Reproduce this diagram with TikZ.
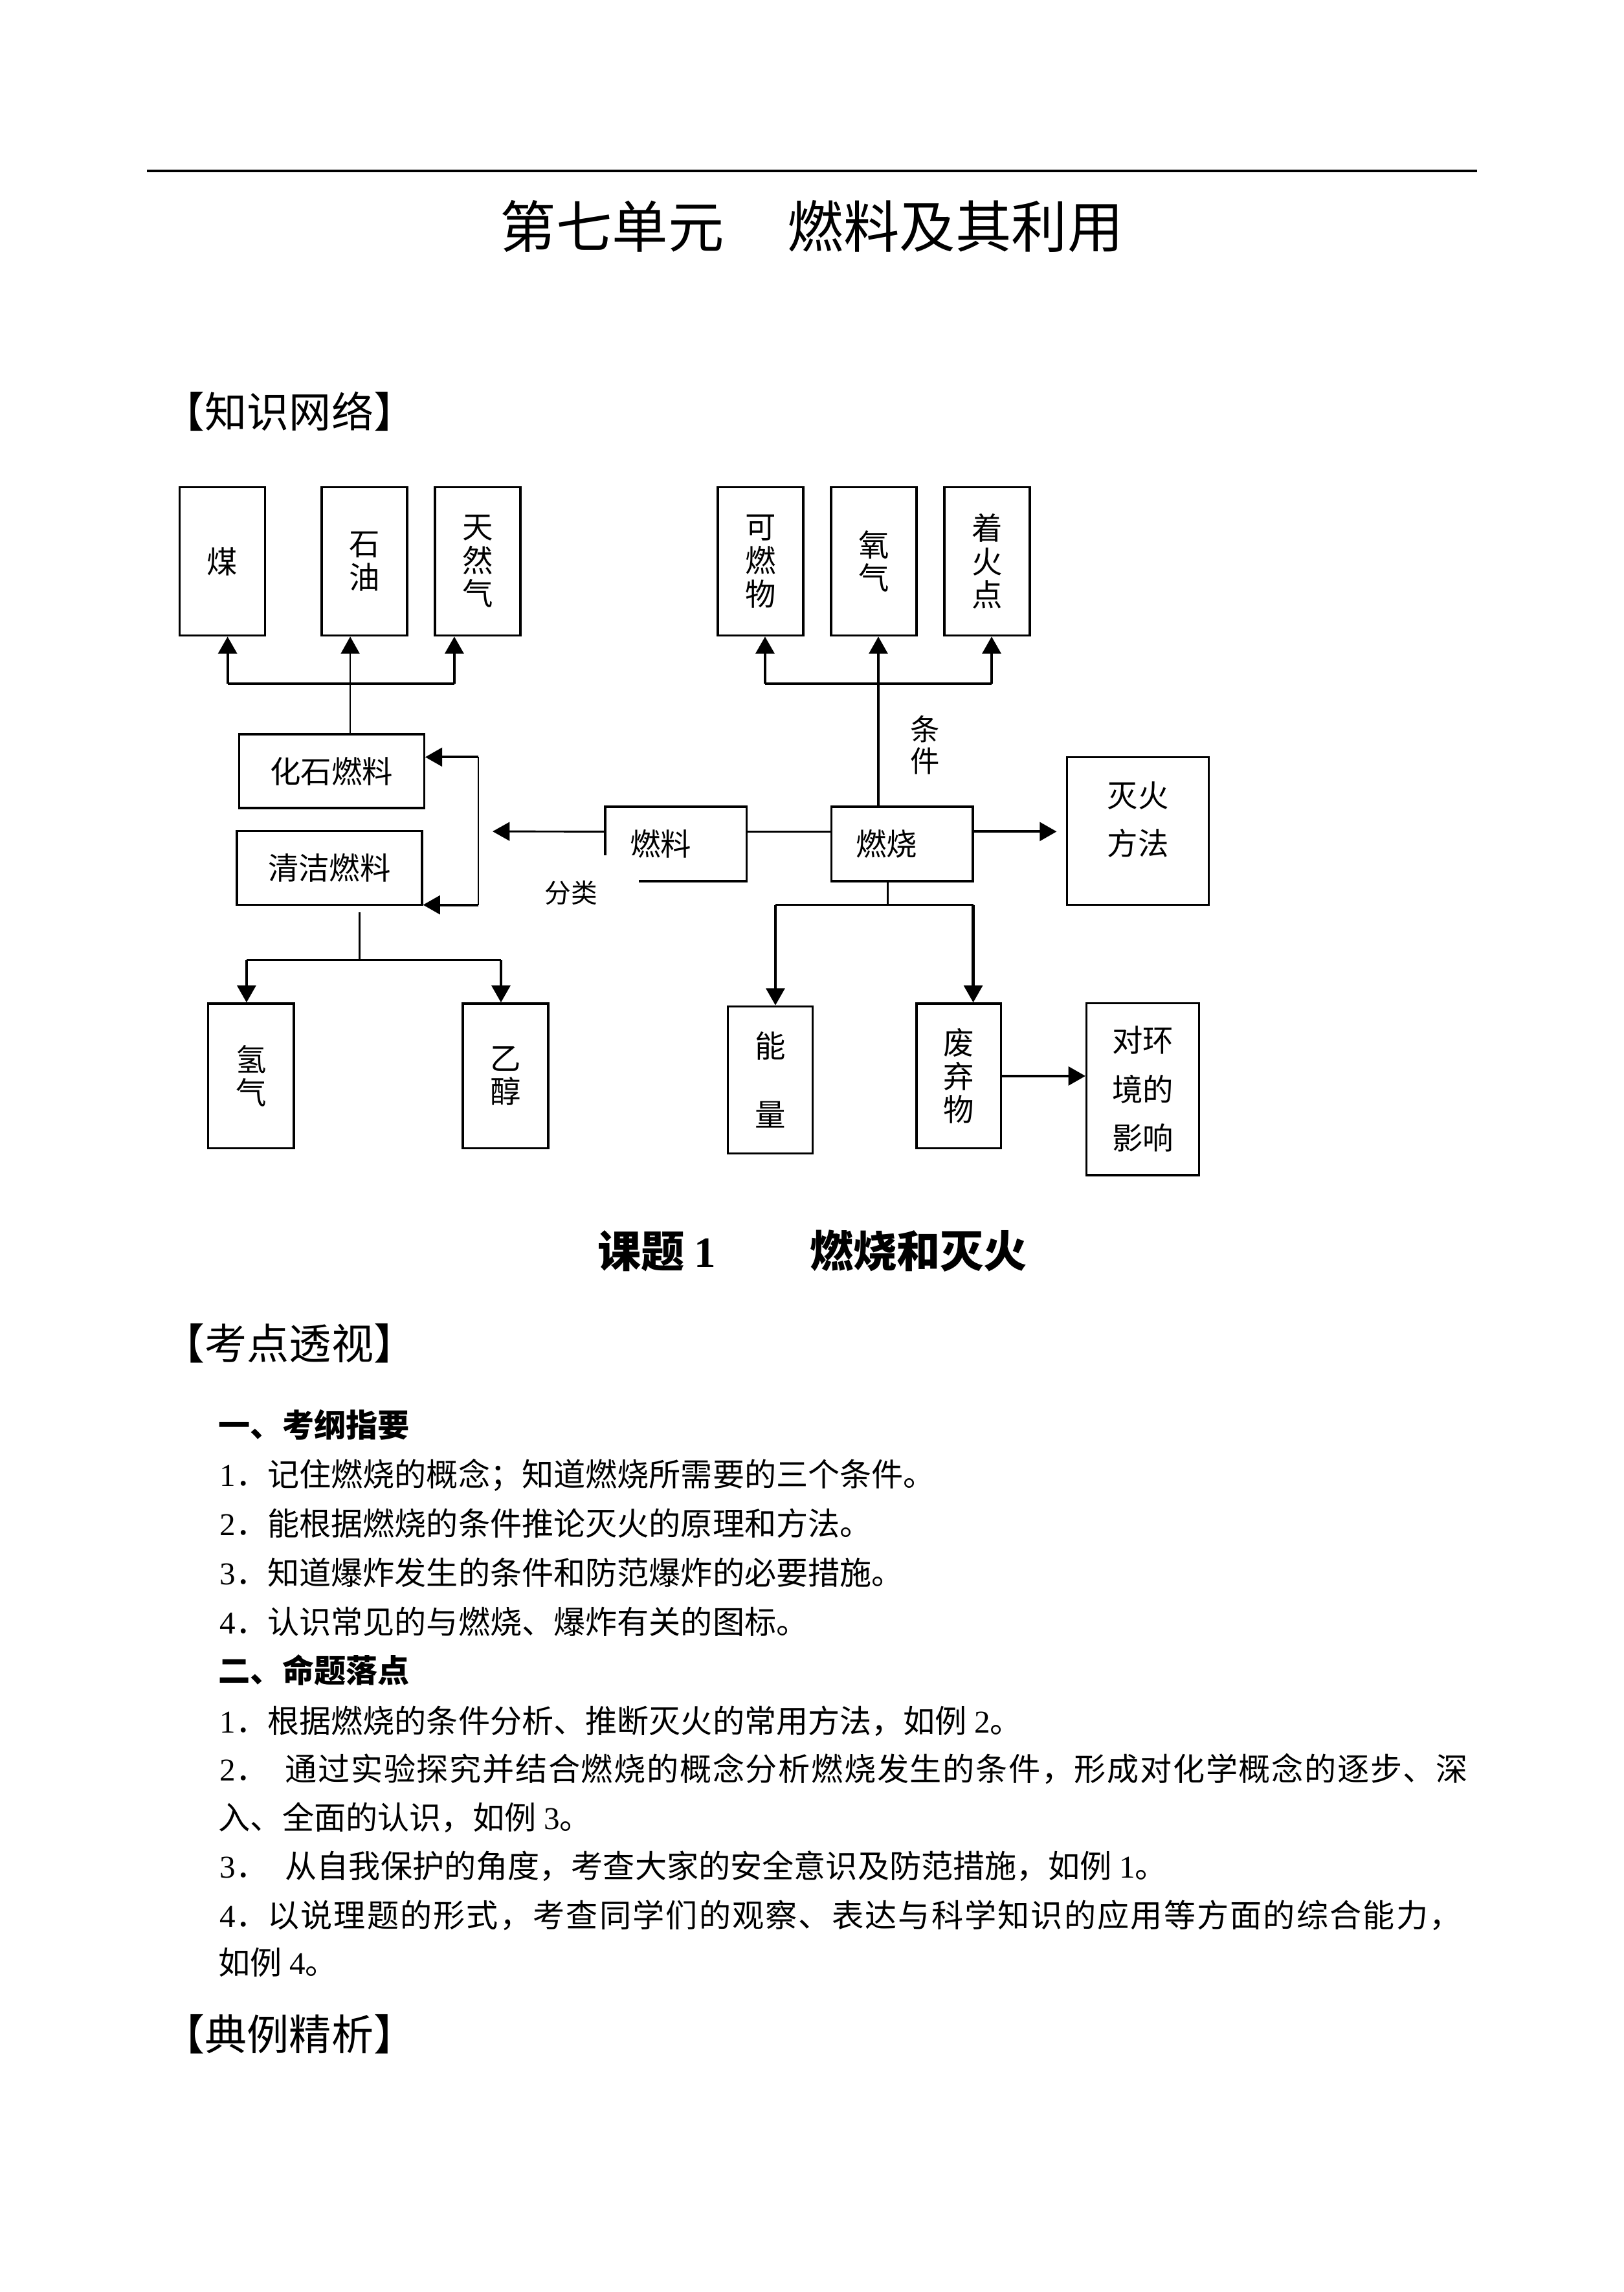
\documentclass[tikz,border=0pt]{standalone}
\usepackage{fontspec}
\setmainfont{Noto Sans CJK SC}
\newfontfamily\latinrm{Liberation Serif}
\usepackage{tikz}
\usetikzlibrary{positioning, arrows.meta, calc}
\definecolor{cLine}{HTML}{000000}
\definecolor{cText}{HTML}{000000}
\newcommand{\rmnum}[1]{{\latinrm #1}}
\tikzset{
  box/.style={draw=cLine, line width=0.8pt, inner sep=0pt, align=center, text=cText,
              font=\fontsize{11.3pt}{12.3pt}\selectfont},
  tallbox/.style={box, minimum width=11.06mm, minimum height=19.17mm},
  widebox/.style={box, minimum width=23.93mm, minimum height=9.55mm},
  flatbox/.style={box, inner xsep=3.2mm, text width=11.9mm, align=left, minimum height=9.62mm},
  link/.style={draw=cLine, line width=0.6pt},
  arr/.style={draw=cLine, line width=1pt, -{Triangle[width=2.4mm, length=2.2mm]}},
  body/.style={anchor=base west, inner sep=0pt, text=cText, font=\fontsize{11.7pt}{14pt}\selectfont},
  head/.style={anchor=base west, inner sep=0pt, text=cText, font=\fontsize{15.5pt}{18pt}\selectfont},
}
\begin{document}
\begin{tikzpicture}
  \useasboundingbox (0,0) rectangle (210mm,-296.3mm);
  % rule and unit title at top
  \coordinate (ruleL) at (19.03mm,-22.1mm);
  \coordinate (ruleR) at (191.0mm,-22.1mm);
  \draw[line width=0.75pt] (ruleL) -- (ruleR);
  \node[anchor=base west, inner sep=0pt, font=\fontsize{20.6pt}{24pt}\selectfont]
        (title) at (64.6mm,-32.0mm) {第七单元\hspace{8.2mm}燃料及其利用};
  \node[head] (zswl) at (21.0mm,-55.3mm) {【知识网络】};
  % top row: kinds of fossil fuel, conditions of burning
  \foreach \n/\xx/\txt in {coal/28.76/煤, oil/47.12/{石\\油}, gas/61.77/{天\\然\\气},
                           comb/98.35/{可\\燃\\物}, oxy/113.0/{氧\\气}, ign/127.65/{着\\火\\点}}{
    \node[tallbox] (\n) at (\xx mm,-72.57mm) {\txt};
  }
  % middle row
  \node[widebox] (fossil) at (42.88mm,-99.68mm) {化石燃料};
  \node[widebox] (clean) at (42.6mm,-112.2mm) {清洁燃料};
  \node[flatbox] (fuel) at (87.4mm,-109.1mm) {燃料};
  \node[flatbox] (burn) at (116.64mm,-109.1mm) {燃烧};
  \node[box, minimum width=18.33mm, minimum height=19.11mm] (ext) at (147.15mm,-107.43mm) {};
  \node[inner sep=0pt, align=center, font=\fontsize{11.3pt}{17.7pt}\selectfont]
        (extlbl) at ([yshift=1.5mm]ext.center) {灭火\\方法};
  % bottom row
  \node[tallbox, minimum height=18.73mm] (hydro) at (32.46mm,-139.1mm) {氢\\气};
  \node[tallbox, minimum height=18.73mm] (eth) at (65.37mm,-139.1mm) {乙\\醇};
  \node[tallbox, minimum width=10.96mm, minimum height=19.0mm] (energy) at (99.6mm,-139.6mm) {能\\[4.5mm]量};
  \node[tallbox, minimum width=10.92mm, minimum height=18.73mm] (waste) at (123.98mm,-139.1mm) {废\\弃\\物};
  \node[box, minimum width=14.55mm, minimum height=22.2mm,
        font=\fontsize{11.3pt}{18pt}\selectfont] (env) at (147.78mm,-140.8mm) {对环\\境的\\影响};
  % fossil fuel -> coal, oil, gas
  \coordinate (lja) at (29.43mm,-88.4mm);
  \coordinate (ljb) at (45.29mm,-88.4mm);
  \coordinate (ljc) at (58.75mm,-88.4mm);
  \draw[link, line width=0.8pt] (lja) -- (ljc);
  \draw[arr, line width=0.6pt] (fossil.north -| ljb) -- (ljb |- oil.south);
  \draw[arr] (lja) -- (lja |- coal.south);
  \draw[arr] (ljc) -- (ljc |- gas.south);
  % burning -> three conditions
  \coordinate (rja) at (98.93mm,-88.4mm);
  \coordinate (rjb) at (113.58mm,-88.4mm);
  \coordinate (rjc) at (128.23mm,-88.4mm);
  \draw[link, line width=0.8pt] (rja) -- (rjc);
  \draw[arr, line width=0.8pt] (burn.north -| rjb) -- (rjb |- oxy.south);
  \draw[arr] (rja) -- (rja |- comb.south);
  \draw[arr] (rjc) -- (rjc |- ign.south);
  \node[inner sep=0pt, align=center, font=\fontsize{10.8pt}{11.8pt}\selectfont]
        (cond) at (119.65mm,-96.3mm) {条\\件};
  % fuel classified into fossil and clean
  \coordinate (kt) at (61.87mm,-97.87mm);
  \coordinate (kb) at (61.87mm,-116.98mm);
  \coordinate (kin) at (63.7mm,-107.48mm);
  \draw[link] (kt) -- (kb);
  \draw[arr] (kt) -- (kt -| fossil.east);
  \draw[arr] (kb) -- (kb -| clean.east);
  \draw[arr, line width=0.7pt] ([yshift=1.6mm]fuel.west) -- (kin);
  \node[fill=white, inner sep=0pt, minimum width=17.6mm, minimum height=9.7mm,
        font=\fontsize{9.7pt}{11pt}\selectfont] (sort) at (73.83mm,-115.41mm) {分类};
  % fuel -- burning -> putting out fire
  \draw[link, line width=0.7pt] ([yshift=1.6mm]fuel.east) -- ([yshift=1.6mm]burn.west);
  \draw[arr, shorten >=1.2mm] ([yshift=1.6mm]burn.east) -- ([yshift=1.6mm]burn.east -| ext.west);
  % burning -> energy, waste
  \coordinate (bj) at (114.8mm,-116.98mm);
  \coordinate (bja) at (100.27mm,-116.98mm);
  \coordinate (bjb) at (125.85mm,-116.98mm);
  \draw[link] (burn.south -| bj) -- (bj);
  \draw[link, line width=0.8pt] (bja) -- (bjb);
  \draw[arr] (bja) -- (bja |- energy.north);
  \draw[arr] (bjb) -- (bjb |- waste.north);
  \draw[arr] (waste.east) -- (waste.east -| env.west);
  % clean fuel -> hydrogen, ethanol
  \coordinate (cj) at (46.49mm,-124.1mm);
  \coordinate (cja) at (31.88mm,-124.1mm);
  \coordinate (cjb) at (64.78mm,-124.1mm);
  \draw[link] ([yshift=-0.8mm]clean.south -| cj) -- (cj);
  \draw[link, line width=0.8pt] (cja) -- (cjb);
  \draw[arr] (cja) -- (cja |- hydro.north);
  \draw[arr] (cjb) -- (cjb |- eth.north);
  % lesson 1 and outline text
  \node[anchor=base west, inner sep=0pt, font=\bfseries\fontsize{16pt}{19pt}\selectfont]
        (lesson) at (77.2mm,-163.81mm) {课题 \rmnum{1}\hspace{12.1mm}燃烧和灭火};
  \node[head] (kdts) at (21.0mm,-175.72mm) {【考点透视】};
  \node[body, font=\bfseries\fontsize{11.7pt}{14pt}\selectfont] (kg) at (28.2mm,-185.76mm) {一、考纲指要};
  \foreach \i/\yy/\txt in {1/192.17/记住燃烧的概念；知道燃烧所需要的三个条件。,
                           2/198.52/能根据燃烧的条件推论灭火的原理和方法。,
                           3/204.87/知道爆炸发生的条件和防范爆炸的必要措施。,
                           4/211.22/认识常见的与燃烧、爆炸有关的图标。}{
    \node[body] (kg\i) at (28.35mm,-\yy mm) {\rmnum{\i}．\txt};
  }
  \node[body, font=\bfseries\fontsize{11.7pt}{14pt}\selectfont] (mt) at (28.2mm,-217.5mm) {二、命题落点};
  \node[body] (mt1) at (28.35mm,-224.0mm) {\rmnum{1}．根据燃烧的条件分析、推断灭火的常用方法，如例 \rmnum{2}。};
  \node[body] (mt2) at (28.35mm,-230.24mm)
        {\rmnum{2}．\hspace{2.3mm}{\addfontfeature{LetterSpace=3.4}通过实验探究并结合燃烧的概念分析燃烧发生的条件，形成对化学概念的逐步、深}};
  \node[body] (mt2b) at (28.2mm,-236.49mm) {入、全面的认识，如例 \rmnum{3}。};
  \node[body] (mt3) at (28.35mm,-242.75mm)
        {\rmnum{3}．\hspace{2.3mm}从自我保护的角度，考查大家的安全意识及防范措施，如例 \rmnum{1}。};
  \node[body] (mt4) at (28.35mm,-249.16mm)
        {\rmnum{4}．{\addfontfeature{LetterSpace=4.4}以说理题的形式，考查同学们的观察、表达与科学知识的应用等方面的综合能力，}};
  \node[body] (mt4b) at (28.2mm,-255.26mm) {如例 \rmnum{4}。};
  \node[head] (dljx) at (21.0mm,-265.05mm) {【典例精析】};
\end{tikzpicture}
\end{document}
